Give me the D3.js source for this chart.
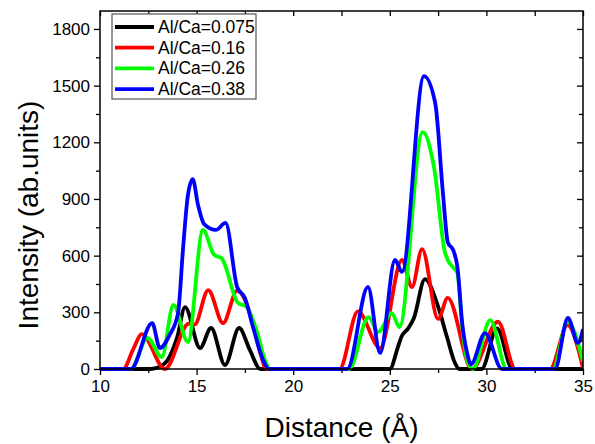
<!DOCTYPE html>
<html>
<head>
<meta charset="utf-8">
<script src="https://cdn.jsdelivr.net/npm/d3@7"></script>
<style>
  body { margin: 0; background: #fff; }
  text { font-family: "Liberation Sans", Arial, sans-serif; }
</style>
</head>
<body>
<div id="chart"></div>
<script>
// data: [distance, intensity]
var black075 = [[10,0],[12.6,0],[13.3,25],[14.0,170],[14.4,328],[15.18,111],[15.75,217],[16.47,21],[17.2,217],[17.76,100],[18.3,0],
  [25.0,0],[25.42,116],[25.6,170],[25.95,215],[26.25,270],[26.82,476],[27.44,349],[27.96,169],[28.37,32],[28.6,0],
  [29.75,0],[30.55,215],[31.35,0],[35,0]];
var red016 = [[10,0],[11.2,0],[11.7,100],[12.17,185],[13.36,0],[14.6,240],[14.9,236],[15.6,418],[16.37,243],[17.1,415],[17.87,259],[18.3,85],[18.6,0],
  [22.4,0],[23.35,305],[24.5,110],[25.63,577],[26.15,434],[26.67,635],[27.5,265],[28.0,376],[29.25,0],
  [30.6,250],[31.5,0],[33.3,0],[34.2,232],[35,5]];
var green026 = [[10,0],[11.6,0],[12.45,165],[13.2,63],[13.8,339],[14.55,143],[15.33,736],[15.9,605],[16.3,585],[17.14,350],[17.6,328],[18.1,206],[18.54,48],[18.8,0],
  [22.9,0],[23.9,275],[24.4,196],[25.1,296],[25.5,222],[26.7,1254],[27.3,1060],[27.85,620],[28.0,577],[28.3,535],[28.5,508],[28.75,222],[29.0,48],[29.3,0],
  [30.2,259],[31.05,0],[33.45,0],[34.2,250],[35,40]];
var blue038 = [[10,0],[11.6,0],[12.7,243],[13.1,111],[13.6,180],[14.04,296],[14.3,640],[14.55,920],[14.8,1005],[15.07,870],[15.4,765],[16.0,736],[16.5,773],[17.1,434],[17.5,376],[17.92,222],[18.44,48],[18.75,0],
  [22.8,0],[23.87,434],[24.5,85],[25.27,577],[25.63,514],[26.77,1550],[27.35,1408],[27.75,932],[28.0,672],[28.3,625],[28.5,540],[28.75,240],[29.0,85],[29.2,25],
  [29.93,190],[30.8,0],[33.55,0],[34.22,270],[34.74,138],[35,210]];

var seriesNames = ["Al/Ca=0.075", "Al/Ca=0.16", "Al/Ca=0.26", "Al/Ca=0.38"];
var seriesColors = ["#000000", "#ff0000", "#00ff00", "#0000ff"];
var seriesData = [black075, red016, green026, blue038];

var xMajor = [10, 15, 20, 25, 30, 35];
var xMinor = [12.5, 17.5, 22.5, 27.5, 32.5];
var yMajor = [0, 300, 600, 900, 1200, 1500, 1800];
var yMinor = [150, 450, 750, 1050, 1350, 1650];

var width = 595, height = 444;
var plotLeft = 100, plotRight = 583, plotTop = 11, plotBottom = 369;

var svg = d3.select("#chart").append("svg")
  .attr("width", width)
  .attr("height", height);

var x = d3.scaleLinear().domain([10, 35]).range([plotLeft, plotRight]);
var y = d3.scaleLinear().domain([0, 1895]).range([plotBottom, plotTop]);

svg.append("clipPath").attr("id", "plotclip")
  .append("rect")
  .attr("x", plotLeft).attr("y", plotTop - 5)
  .attr("width", plotRight - plotLeft).attr("height", plotBottom - plotTop + 10);

var line = d3.line()
  .x(function(d) { return x(d[0]); })
  .y(function(d) { return y(d[1]); })
  .curve(d3.curveMonotoneX);

svg.append("g").attr("clip-path", "url(#plotclip)")
  .selectAll("path")
  .data(seriesData)
  .enter()
  .append("path")
  .attr("d", line)
  .attr("fill", "none")
  .attr("stroke", function(d, i) { return seriesColors[i]; })
  .attr("stroke-width", 3.8)
  .attr("stroke-linejoin", "round");

function styleAxis(g) {
  g.selectAll(".domain").remove();
  g.selectAll("line").attr("stroke", "#000").attr("stroke-width", 1.3);
  g.selectAll("text").attr("font-size", 17).attr("fill", "#000")
    .attr("font-family", "'Liberation Sans', Arial, sans-serif");
}

// bottom (outward)
svg.append("g").attr("transform", "translate(0," + plotBottom + ")")
  .call(d3.axisBottom(x).tickValues(xMajor).tickSize(6).tickPadding(5).tickFormat(d3.format("d")))
  .call(styleAxis);
svg.append("g").attr("transform", "translate(0," + plotBottom + ")")
  .call(d3.axisBottom(x).tickValues(xMinor).tickSize(4).tickFormat(""))
  .call(styleAxis);
// left (outward)
svg.append("g").attr("transform", "translate(" + plotLeft + ",0)")
  .call(d3.axisLeft(y).tickValues(yMajor).tickSize(6).tickPadding(4).tickFormat(d3.format("d")))
  .call(styleAxis);
svg.append("g").attr("transform", "translate(" + plotLeft + ",0)")
  .call(d3.axisLeft(y).tickValues(yMinor).tickSize(4).tickFormat(""))
  .call(styleAxis);
// top (inward)
svg.append("g").attr("transform", "translate(0," + plotTop + ")")
  .call(d3.axisBottom(x).tickValues(xMajor.concat(xMinor)).tickSize(5).tickFormat(""))
  .call(styleAxis);
// right (inward)
svg.append("g").attr("transform", "translate(" + plotRight + ",0)")
  .call(d3.axisLeft(y).tickValues(yMajor).tickSize(6).tickFormat(""))
  .call(styleAxis);
svg.append("g").attr("transform", "translate(" + plotRight + ",0)")
  .call(d3.axisLeft(y).tickValues(yMinor).tickSize(4).tickFormat(""))
  .call(styleAxis);

// frame
svg.append("rect")
  .attr("x", plotLeft).attr("y", plotTop)
  .attr("width", plotRight - plotLeft).attr("height", plotBottom - plotTop)
  .attr("fill", "none").attr("stroke", "#000").attr("stroke-width", 1.5);

// axis titles
svg.append("text")
  .attr("x", (plotLeft + plotRight) / 2).attr("y", 437)
  .attr("text-anchor", "middle")
  .attr("font-size", 28)
  .text("Distance (Å)");
svg.append("text")
  .attr("transform", "translate(38,215) rotate(-90)")
  .attr("text-anchor", "middle")
  .attr("font-size", 28)
  .text("Intensity (ab.units)");

// legend
var legend = svg.append("g");
legend.append("rect")
  .attr("x", 112).attr("y", 14)
  .attr("width", 144).attr("height", 85)
  .attr("fill", "#fff").attr("stroke", "#555").attr("stroke-width", 1.2);
var rows = legend.selectAll("g.row")
  .data(seriesNames)
  .enter()
  .append("g")
  .attr("transform", function(d, i) { return "translate(0," + (27 + i * 20.7) + ")"; });
rows.append("line")
  .attr("x1", 115).attr("x2", 154)
  .attr("y1", 0).attr("y2", 0)
  .attr("stroke", function(d, i) { return seriesColors[i]; })
  .attr("stroke-width", 3.8);
rows.append("text")
  .attr("x", 158).attr("y", 6)
  .attr("font-size", 17.5)
  .text(function(d) { return d; });
</script>
</body>
</html>
